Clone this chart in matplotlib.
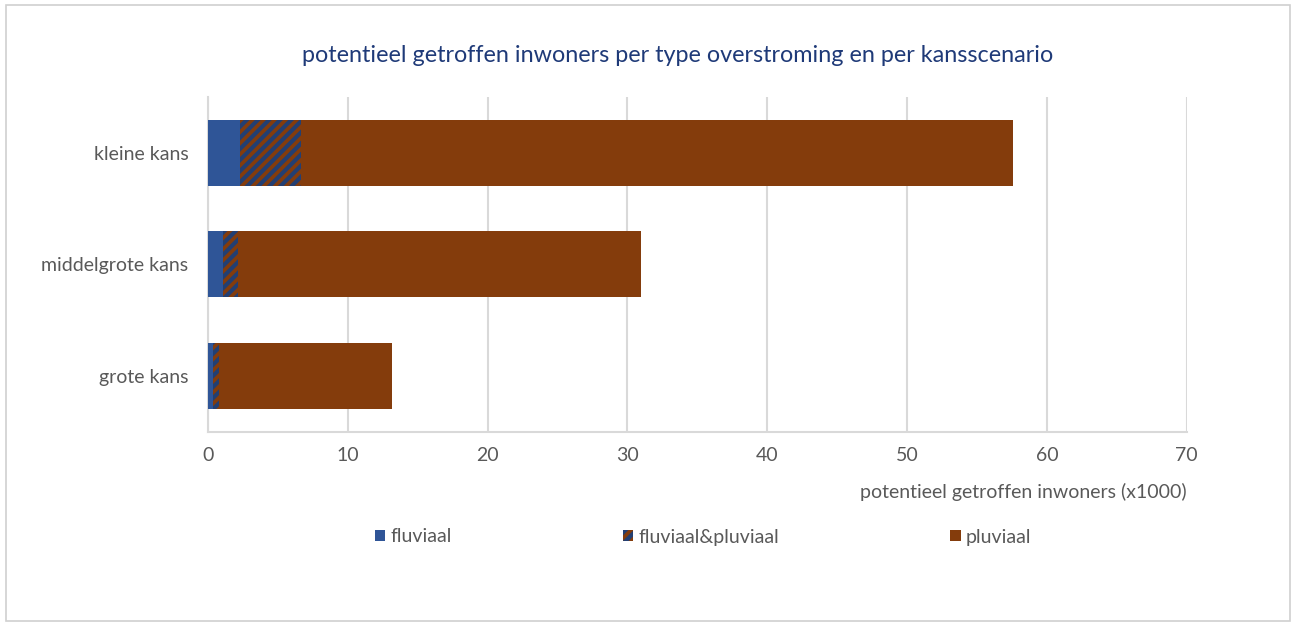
import matplotlib.pyplot as plt
from matplotlib.patches import Patch, Rectangle

# ---------------- data (x1000 inwoners) ----------------
scenarios = ["grote kans", "middelgrote kans", "kleine kans"]
fluviaal = [0.36, 1.07, 2.29]
fluv_pluv = [0.43, 1.08, 4.37]
pluviaal = [12.40, 28.80, 50.94]
xticks = [0, 10, 20, 30, 40, 50, 60, 70]

# ---------------- style ----------------
blue = "#2F5597"
hatch_blue = "#233F72"
brown = "#843C0C"
grid = "#D9D9D9"
txt = "#595959"
fs = 14

plt.rcParams['font.family'] = ['Lato', 'DejaVu Sans']
plt.rcParams['hatch.linewidth'] = 3.0

fig = plt.figure(figsize=(12.96, 6.22), dpi=100)
ax = fig.add_axes([208 / 1296, 1 - 431.7 / 622, (1186.7 - 208) / 1296, (431.7 - 97) / 622])

y = list(range(len(scenarios)))
h = 0.59
left2 = [a + b for a, b in zip(fluviaal, fluv_pluv)]

ax.barh(y, fluviaal, height=h, color=blue, edgecolor="none", zorder=3)
ax.barh(y, fluv_pluv, left=fluviaal, height=h, color=brown, edgecolor=hatch_blue,
        linewidth=0, hatch="///", zorder=3)
ax.barh(y, pluviaal, left=left2, height=h, color=brown, edgecolor="none", zorder=3)

ax.set_xlim(0, 70)
ax.set_ylim(-0.5, 2.5)
ax.set_xticks(xticks)
ax.set_yticks(y)
ax.set_yticklabels(scenarios)
ax.tick_params(axis="both", length=0, labelsize=fs, colors=txt)
ax.tick_params(axis="y", pad=14)
ax.tick_params(axis="x", pad=11)
ax.grid(axis="x", color=grid, linewidth=1.5, zorder=0)

for s in ["top", "right"]:
    ax.spines[s].set_visible(False)
for s in ["left", "bottom"]:
    ax.spines[s].set_color(grid)
    ax.spines[s].set_linewidth(1.5)

fig.text(678 / 1296, 1 - 55 / 622,
         "potentieel getroffen inwoners per type overstroming en per kansscenario",
         ha="center", va="center", fontsize=16.8, color="#1F3A78")

fig.text(1187 / 1296, 1 - 492 / 622, "potentieel getroffen inwoners (x1000)",
         ha="right", va="center", fontsize=fs, color=txt)

handles = [
    Patch(facecolor=blue, edgecolor="none", label="fluviaal"),
    Patch(facecolor=brown, edgecolor=hatch_blue, linewidth=0, hatch="///", label="fluviaal&pluviaal"),
    Patch(facecolor=brown, edgecolor="none", label="pluviaal"),
]
leg = fig.legend(handles=handles, loc="center", bbox_to_anchor=(703 / 1296, 1 - 537 / 622),
                 ncol=3, frameon=False, fontsize=fs, handlelength=0.55, handleheight=0.55,
                 handletextpad=0.25, columnspacing=8.8)
for t in leg.get_texts():
    t.set_color(txt)

# outer chart border
fig.patches.append(Rectangle((6 / 1296, 1 / 622), 1284 / 1296, 616 / 622,
                             transform=fig.transFigure, fill=False,
                             edgecolor="#D0D0D0", linewidth=1.2))

fig.savefig("out.png", dpi=100, facecolor="white")
